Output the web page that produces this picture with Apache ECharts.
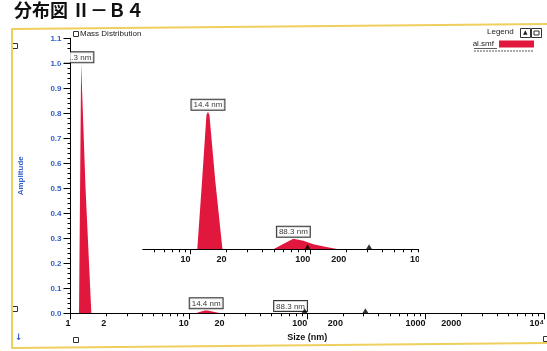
<!DOCTYPE html>
<html><head><meta charset="utf-8">
<script src="https://cdn.jsdelivr.net/npm/echarts@6/dist/echarts.min.js"></script>
<style>html,body{margin:0;padding:0;background:#fff}#c{width:547px;height:351px}</style>
</head><body><div id="c"></div>
<script>
// ---- data ----
const peak1Size = [1.18, 1.23, 1.34, 1.50];
const peak1Amp  = [0, 1.0, 0.5, 0];
const peak2Size = [11.4, 12.5, 13.6, 14.0, 14.4, 16.1, 18.5];
const peak2Amp  = [0, 0.006, 0.0117, 0.012, 0.0117, 0.006, 0];
const peak3Size = [49.2, 59.5, 72.3, 87.6, 106, 136.6, 171];
const peak3Amp  = [0, 0.00047, 0.00093, 0.00075, 0.00044, 0.0002, 0];
const peakLabels = ['1.3 nm', '14.4 nm', '88.3 nm'];
const markerSizes = [95, 310];
const mainXLabels = [1, 2, 10, 20, 100, 200, 1000, 2000, 10000];
const mainXMajor = [1, 10, 100, 1000, 10000];
const mainXMinor = [2,3,4,5,6,7,8,9,20,30,40,50,60,70,80,90,200,300,400,500,600,700,800,900,2000,3000,4000,5000,6000,7000,8000,9000];
const insetXLabels = [10, 20, 100, 200, 1000];
const insetXMajor = [10, 100, 1000];
const insetXMinor = [5,6,7,8,9,20,30,40,50,60,70,80,90,200,300,400,500,600,700,800,900];
const yMax = 1.1, yStep = 0.1;

const RED = '#e2173d';
const FONT = 'Liberation Sans, Arial, sans-serif';

function pairs(xs, ys) { return xs.map((x, i) => [x, ys[i]]); }
const curve = [[1, 0]].concat(pairs(peak1Size, peak1Amp), pairs(peak2Size, peak2Amp), pairs(peak3Size, peak3Amp), [[10000, 0]]);
function apex(xs, ys) { let k = 0; ys.forEach((v, i) => { if (v > ys[k]) k = i; }); return [xs[k], ys[k]]; }
const apexes = [apex(peak1Size, peak1Amp), apex(peak2Size, peak2Amp), apex(peak3Size, peak3Amp)];

const boxLabel = {
  show: true, position: 'top', distance: 2,
  formatter: p => p.data.name,
  fontSize: 8, fontFamily: FONT, color: '#000',
  backgroundColor: '#fff', borderColor: '#000', borderWidth: 1,
  padding: [1, 2, 0, 2], lineHeight: 9
};
const mainLabelData = apexes.map((a, i) => ({ name: peakLabels[i], value: a,
  label: i === 0 ? { distance: 1, offset: [-2, 0] } : {} }));
const insetLabelData = apexes.slice(1).map((a, i) => ({ name: peakLabels[i + 1], value: a }));

const chart = echarts.init(document.getElementById('c'), null, { renderer: 'canvas' });

function logAxis(grid, min, max, opt) {
  return Object.assign({
    type: 'log', logBase: 10, gridIndex: grid, min: min, max: max, position: 'bottom',
    splitLine: { show: false },
    axisLine: { show: true, onZero: false, lineStyle: { color: '#000', width: 1 } },
  }, opt);
}

chart.setOption({
  animation: false,
  backgroundColor: '#fff',
  legend: {
    data: ['al.smf'], right: 13, top: 40, icon: 'rect', itemWidth: 35, itemHeight: 7,
    align: 'right', itemGap: 2, padding: 0,
    textStyle: { fontSize: 8, fontFamily: FONT, color: '#222' }
  },
  grid: [
    { left: 70.5, right: -3, top: 38.3, bottom: 37.7 },
    { left: 142.8, right: 117, top: 100.2, bottom: 101.7 }
  ],
  xAxis: [
    logAxis(0, 1, 10000, {
      name: 'Size (nm)', nameLocation: 'middle', nameGap: 17,
      nameTextStyle: { fontSize: 9, fontWeight: 'bold', fontFamily: FONT, color: '#111' },
      axisTick: { show: true, length: 3, customValues: mainXMinor, lineStyle: { color: '#000' } },
      axisLabel: { customValues: mainXLabels, align: 'right', margin: 6, fontSize: 9, fontWeight: 'bold', fontFamily: FONT, color: '#111',
        formatter: v => (v >= 10000 ? '10⁴' : String(v)) }
    }),
    logAxis(1, 4, 1000, {
      axisTick: { show: true, length: 3, customValues: insetXMinor, lineStyle: { color: '#000' } },
      axisLabel: { customValues: insetXLabels, align: 'right', margin: 6, fontSize: 9, fontWeight: 'bold', fontFamily: FONT, color: '#111',
        formatter: v => String(v) }
    }),
    logAxis(0, 1, 10000, {
      axisLine: { show: false },
      axisTick: { show: true, length: 6, customValues: mainXMajor, lineStyle: { color: '#000' } },
      axisLabel: { show: false }
    }),
    logAxis(1, 4, 1000, {
      axisLine: { show: false },
      axisTick: { show: true, length: 5, customValues: insetXMajor, lineStyle: { color: '#000' } },
      axisLabel: { show: false }
    })
  ],
  yAxis: [
    {
      type: 'value', gridIndex: 0, min: 0, max: yMax, interval: yStep,
      name: 'Amplitude', nameLocation: 'middle', nameGap: 46,
      nameTextStyle: { fontSize: 8, fontWeight: 'bold', fontFamily: FONT, color: '#2f5fc9' },
      splitLine: { show: false },
      axisLine: { show: true, lineStyle: { color: '#000', width: 1 } },
      axisTick: { show: true, length: 7, lineStyle: { color: '#000' } },
      minorTick: { show: true, splitNumber: 5, length: 3, lineStyle: { color: '#000' } },
      axisLabel: { margin: 9, fontSize: 8, fontWeight: 'bold', fontFamily: FONT, color: '#2f5fc9',
        formatter: v => v.toFixed(1) }
    },
    { type: 'value', gridIndex: 1, min: 0, max: 0.013, show: false }
  ],
  series: [
    { name: 'al.smf', type: 'line', xAxisIndex: 0, yAxisIndex: 0, data: curve, showSymbol: false,
      lineStyle: { width: 0 }, areaStyle: { color: RED, opacity: 1 }, itemStyle: { color: RED }, z: 2 },
    { name: 'al.smf', type: 'line', xAxisIndex: 1, yAxisIndex: 1, data: curve, showSymbol: false,
      lineStyle: { width: 0 }, areaStyle: { color: RED, opacity: 1 }, itemStyle: { color: RED }, z: 2 },
    { type: 'scatter', xAxisIndex: 0, yAxisIndex: 0, data: mainLabelData, symbolSize: 0, label: boxLabel, z: 5, silent: true },
    { type: 'scatter', xAxisIndex: 1, yAxisIndex: 1, data: insetLabelData, symbolSize: 0, label: boxLabel, z: 5, silent: true },
    { type: 'scatter', xAxisIndex: 0, yAxisIndex: 0, data: markerSizes.map(v => [v, 0]), symbol: 'triangle',
      symbolSize: [6, 5], symbolOffset: [0, -2.5], itemStyle: { color: '#000' }, z: 6, silent: true },
    { type: 'scatter', xAxisIndex: 1, yAxisIndex: 1, data: markerSizes.map(v => [v, 0]), symbol: 'triangle',
      symbolSize: [6, 5], symbolOffset: [0, -2.5], itemStyle: { color: '#000' }, z: 6, silent: true }
  ],
  graphic: [
    { type: 'text', left: 14, top: 1, style: { text: '分布図 Ⅱ－Ｂ４', font: 'bold 18px "Noto Sans CJK JP"', fill: '#111' } },
    { type: 'polygon', shape: { points: [[12, 29], [552, 24], [552, 343], [12, 348]] }, style: { fill: 'none', stroke: '#efcf5e', lineWidth: 2 }, z: 50 },
    // mask clipping the first peak label at the y axis
    { type: 'rect', shape: { x: 60, y: 49, width: 10, height: 13.6 }, style: { fill: '#fff' }, z: 100 },
    // mask clipping the inset axis at its right end
    { type: 'rect', shape: { x: 419, y: 240, width: 14, height: 24 }, style: { fill: '#fff' }, z: 100 },
    { type: 'rect', shape: { x: 73.5, y: 31.5, width: 5, height: 5 }, style: { fill: 'none', stroke: '#333', lineWidth: 1 } },
    { type: 'text', left: 80, top: 30, style: { text: 'Mass Distribution', font: '8px "Liberation Sans"', fill: '#222' } },
    { type: 'text', left: 487, top: 28, style: { text: 'Legend', font: '8px "Liberation Sans"', fill: '#222' } },
    { type: 'rect', shape: { x: 520.5, y: 28.5, width: 10, height: 9 }, style: { fill: 'none', stroke: '#333', lineWidth: 1 } },
    { type: 'text', left: 523, top: 29, style: { text: '▲', font: '6px "DejaVu Sans"', fill: '#222' } },
    { type: 'rect', shape: { x: 531.5, y: 28.5, width: 10, height: 9 }, style: { fill: 'none', stroke: '#333', lineWidth: 1 } },
    { type: 'rect', shape: { x: 534, y: 31, width: 5, height: 4 }, style: { fill: 'none', stroke: '#333', lineWidth: 1 } },
    { type: 'line', shape: { x1: 474, y1: 48.5, x2: 497, y2: 48.5 }, style: { stroke: '#333', lineWidth: 0.8 } },
    { type: 'line', shape: { x1: 474, y1: 51, x2: 534, y2: 51 }, style: { stroke: '#555', lineWidth: 1, lineDash: [2, 1] } },
    { type: 'rect', shape: { x: 12.5, y: 43.5, width: 5, height: 5 }, style: { fill: 'none', stroke: '#333', lineWidth: 1 } },
    { type: 'rect', shape: { x: 12.5, y: 306.5, width: 5, height: 5 }, style: { fill: 'none', stroke: '#333', lineWidth: 1 } },
    { type: 'rect', shape: { x: 73.5, y: 337.5, width: 5, height: 5 }, style: { fill: 'none', stroke: '#333', lineWidth: 1 } },
    { type: 'text', left: 15, top: 333, style: { text: '↓', font: 'bold 9px "DejaVu Sans"', fill: '#2f5fc9' } },
    { type: 'rect', shape: { x: 543.5, y: 336.5, width: 5, height: 5 }, style: { fill: 'none', stroke: '#333', lineWidth: 1 } }
  ]
});
</script>
</body></html>
